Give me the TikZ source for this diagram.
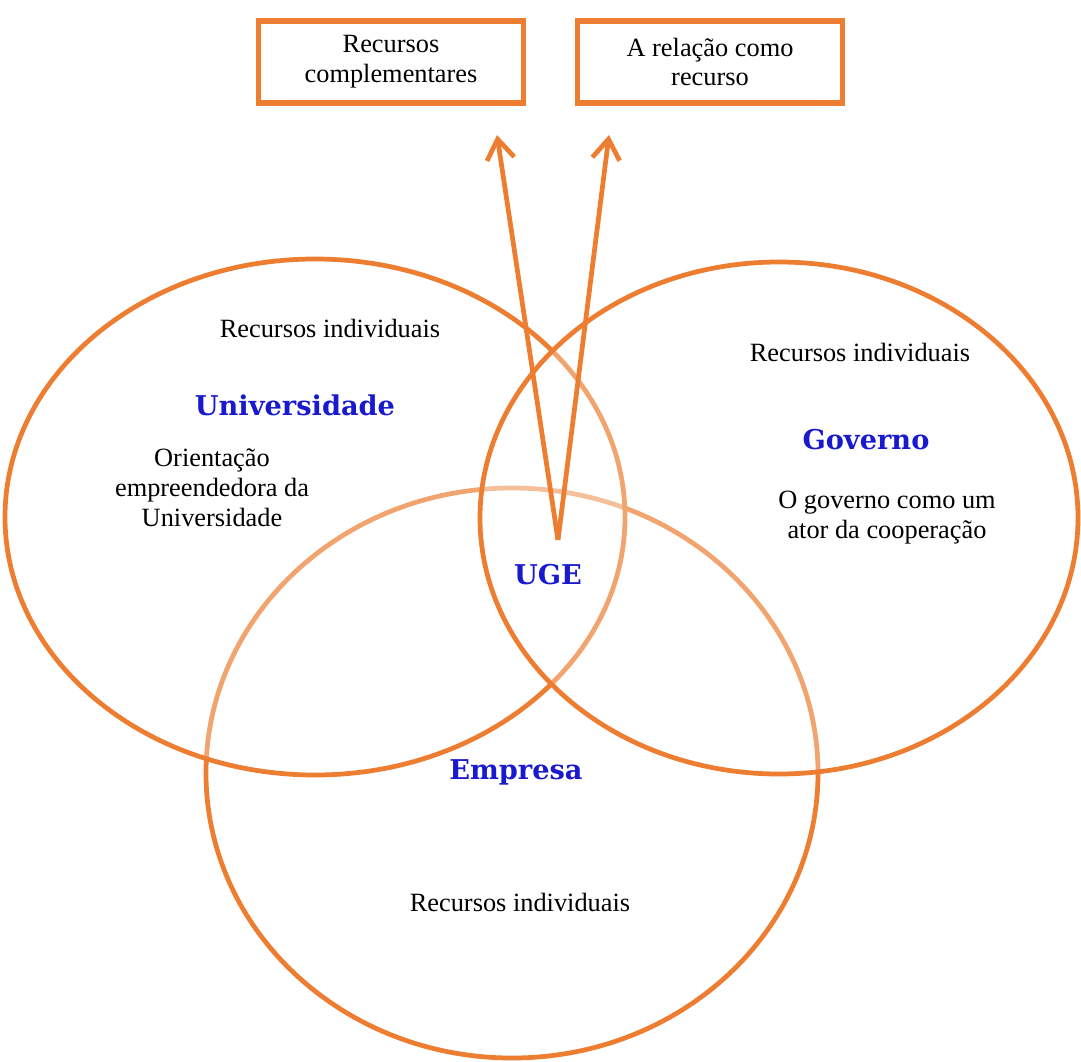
\documentclass[tikz,border=0pt]{standalone}
\usepackage{fontspec}
\setmainfont{Liberation Serif}
\newfontfamily\rotulo{DejaVu Serif}
\usetikzlibrary{arrows.meta}
\definecolor{laranja}{RGB}{237,125,49}
\definecolor{azul}{RGB}{25,25,205}

\begin{document}
\begin{tikzpicture}[x=0.02cm,y=-0.02cm,
    conjunto/.style={draw=laranja,line width=2.7pt,fill=white,fill opacity=.3},
    caixa/.style={draw=laranja,line width=3.2pt,minimum width=5.3cm,minimum height=1.65cm,
      align=center,font=\fontsize{15}{17}\selectfont},
    texto/.style={align=center,font=\fontsize{15}{17}\selectfont},
    ator/.style={text=azul,font=\rotulo\bfseries\fontsize{15.5}{18}\selectfont},
    seta/.style={draw=laranja,line width=2.7pt,-{Straight Barb[length=4mm,width=5.5mm]}}]
    \useasboundingbox (0,0) rectangle (1081,1061);
    %(conjuntos)
    \draw[conjunto] (512,773) ellipse [x radius=306,y radius=285];
    \draw[conjunto] (315,517) ellipse [x radius=310,y radius=258];
    \draw[conjunto] (779,518) ellipse [x radius=299,y radius=256];
    %(caixas)
    \node[caixa] (complementares) at (391,62) {Recursos\\complementares};
    \node[caixa] (relacao) at (710,62) {A relação como\\recurso};
    %(universidade)
    \node[texto] (recU) at (330,328) {Recursos individuais};
    \node[ator] (univ) at (295,405) {Universidade};
    \node[texto] (orient) at (212,488) {Orientação\\empreendedora da\\Universidade};
    %(governo)
    \node[texto] (recG) at (860,352) {Recursos individuais};
    \node[ator] (gov) at (866,440) {Governo};
    \node[texto] (ator) at (887,518) {O governo como um\\ator da cooperação};
    %(empresa)
    \node[ator] (emp) at (516,772) {Empresa};
    \node[texto] (recE) at (520,902) {Recursos individuais};
    %(uge)
    \node[ator] (uge) at (548,575) {UGE};
    \coordinate (v) at (558,540);
    \coordinate (alvo1) at (497,135);
    \coordinate (alvo2) at (609,135);
    \draw[seta] (v) -- (alvo1);
    \draw[seta] (v) -- (alvo2);
\end{tikzpicture}
\end{document}
